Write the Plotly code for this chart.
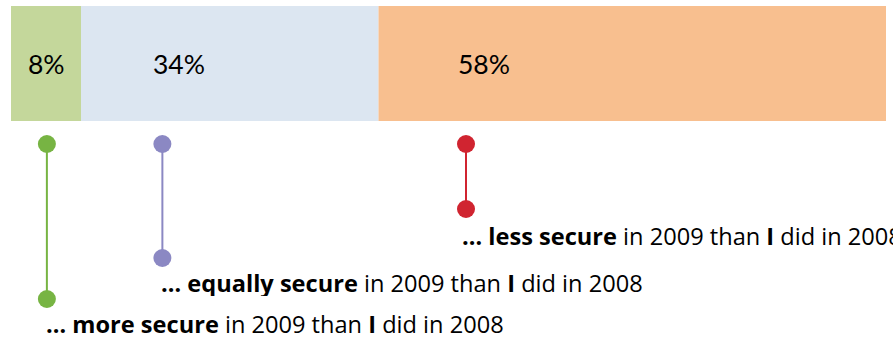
import plotly.graph_objects as go

# Share of respondents by how secure they feel compared with the year before
categories = ["more secure", "equally secure", "less secure"]
shares = [8, 34, 58]
bar_colors = ["#c4d79b", "#dce6f1", "#f8bf8f"]
dot_colors = ["#77b443", "#8b88c3", "#d02430"]

# Horizontal position of each marker stem (in % along the bar) and its lower end
stem_x = [4.1, 17.3, 52.0]
stem_bottom = [299, 258, 209]
stem_top = 144
caption_y = [324, 283, 236]
caption_x = [3.9, 17.05, 51.4]
label_x = [4.0, 19.2, 54.0]

FONT = "Open Sans"

fig = go.Figure()

# Stacked bar segments
base = 0
for cat, val, col, lx in zip(categories, shares, bar_colors, label_x):
    fig.add_trace(go.Bar(
        x=[val], y=[63.5], base=[base], orientation="h", width=115,
        marker=dict(color=col, line=dict(width=0)),
        showlegend=False, hoverinfo="skip",
    ))
    fig.add_annotation(
        x=lx, y=63.5, text=f"{val}%", showarrow=False,
        font=dict(family="Lato", size=26.5, color="#000000"),
        xanchor="center", yanchor="middle",
    )
    base += val

# Marker stems with dots at both ends
for cat, sx, sb, dc, cx, cy in zip(categories, stem_x, stem_bottom, dot_colors, caption_x, caption_y):
    fig.add_trace(go.Scatter(
        x=[sx, sx], y=[stem_top, sb], mode="lines+markers",
        line=dict(color=dc, width=2),
        marker=dict(color=dc, size=18),
        showlegend=False, hoverinfo="skip",
    ))
    fig.add_annotation(
        x=cx, y=cy, text=f"<b>… {cat}</b> in 2009 than <b>I</b> did in 2008",
        showarrow=False, xanchor="left", yanchor="middle",
        height=26, borderpad=0,
        font=dict(family=FONT, size=23.6, color="#000000"),
    )

px_per_pct = 8.75
fig.update_layout(
    width=893, height=339,
    margin=dict(l=0, r=0, t=0, b=0),
    paper_bgcolor="white", plot_bgcolor="white",
    barmode="overlay",
    xaxis=dict(range=[-11 / px_per_pct, (893 - 11) / px_per_pct], visible=False, fixedrange=True),
    yaxis=dict(range=[339, 0], visible=False, fixedrange=True),
)

fig.write_html("out.html")
